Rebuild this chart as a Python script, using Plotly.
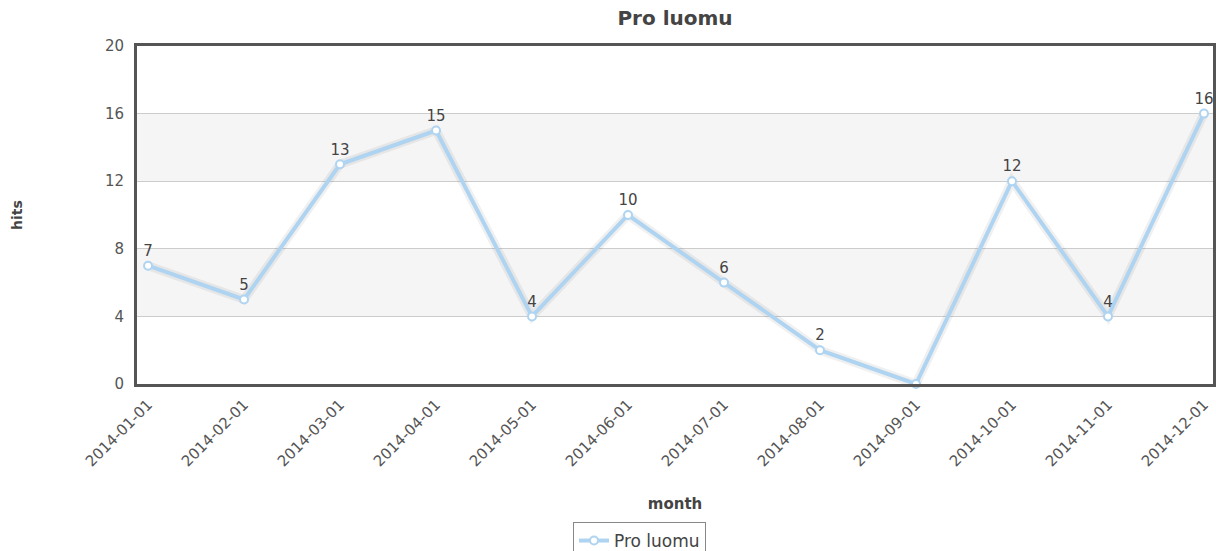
import plotly.graph_objects as go

months = ["2014-01-01", "2014-02-01", "2014-03-01", "2014-04-01", "2014-05-01", "2014-06-01",
          "2014-07-01", "2014-08-01", "2014-09-01", "2014-10-01", "2014-11-01", "2014-12-01"]
hits = [7, 5, 13, 15, 4, 10, 6, 2, 0, 12, 4, 16]
y_ticks = [0, 4, 8, 12, 16, 20]
bands = [(4, 8), (12, 16)]

LINE = "#afd4f1"
FONT = "DejaVu Sans, Verdana, sans-serif"

fig = go.Figure()
# soft shadow under the line
fig.add_trace(go.Scatter(x=months, y=hits, mode="lines", showlegend=False, hoverinfo="skip",
                         line=dict(color="rgba(0,0,0,0.06)", width=9)))
fig.add_trace(go.Scatter(
    x=months, y=hits, mode="lines+markers+text", name="Pro luomu",
    text=[str(v) if v != 0 else "" for v in hits], textposition="top center",
    textfont=dict(family=FONT, size=15, color="#444444"),
    line=dict(color=LINE, width=4),
    marker=dict(symbol="circle", size=8, color="white", line=dict(color=LINE, width=2)),
    cliponaxis=False,
))

for y0, y1 in bands:
    fig.add_shape(type="rect", xref="paper", x0=0, x1=1, yref="y", y0=y0, y1=y1,
                  fillcolor="#f5f5f5", line_width=0, layer="below")

L, R, T, B = 137, 3, 46, 167
W, H = 1216, 551
pw = W - L - R
ph = H - T - B

fig.update_layout(
    width=W, height=H,
    margin=dict(l=L, r=R, t=T, b=B, autoexpand=False),
    paper_bgcolor="white", plot_bgcolor="white",
    font=dict(family=FONT, size=15, color="#555555"),
    title=dict(text="<b>Pro luomu</b>", x=0.5, xref="paper", xanchor="center",
               y=1 - 18 / H, yanchor="middle", font=dict(family=FONT, size=20, color="#444444")),
    xaxis=dict(type="category", range=[-0.115, 11.094], tickangle=-45, automargin=False,
               showgrid=False, showline=True, linecolor="#555555", linewidth=3, mirror=True,
               ticks="", ticklabelstandoff=3, tickfont=dict(family=FONT, size=15, color="#555555"),
               title=dict(text="<b>month</b>", font=dict(family=FONT, size=15, color="#444444"),
                          standoff=30),
               zeroline=False),
    yaxis=dict(range=[0, 20], tickvals=y_ticks, showgrid=True, gridcolor="#cccccc", gridwidth=1,
               automargin=False,
               showline=True, linecolor="#555555", linewidth=3, mirror=True,
               ticks="", ticklabelstandoff=7, tickfont=dict(family=FONT, size=15, color="#555555"),
               title=dict(text="<b>hits</b>", font=dict(family=FONT, size=14, color="#444444"),
                          standoff=80),
               zeroline=False),
    showlegend=True,
    legend=dict(x=(573 - L) / pw, xanchor="left", y=(H - B - 522) / ph, yanchor="top",
                bordercolor="#888888", borderwidth=1, bgcolor="white",
                font=dict(family=FONT, size=17, color="#444444"),
                itemwidth=30, tracegroupgap=0),
)

fig.write_html("out.html", config={"displayModeBar": False},
               post_script="document.body.style.margin='0';document.body.style.overflow='hidden';")
